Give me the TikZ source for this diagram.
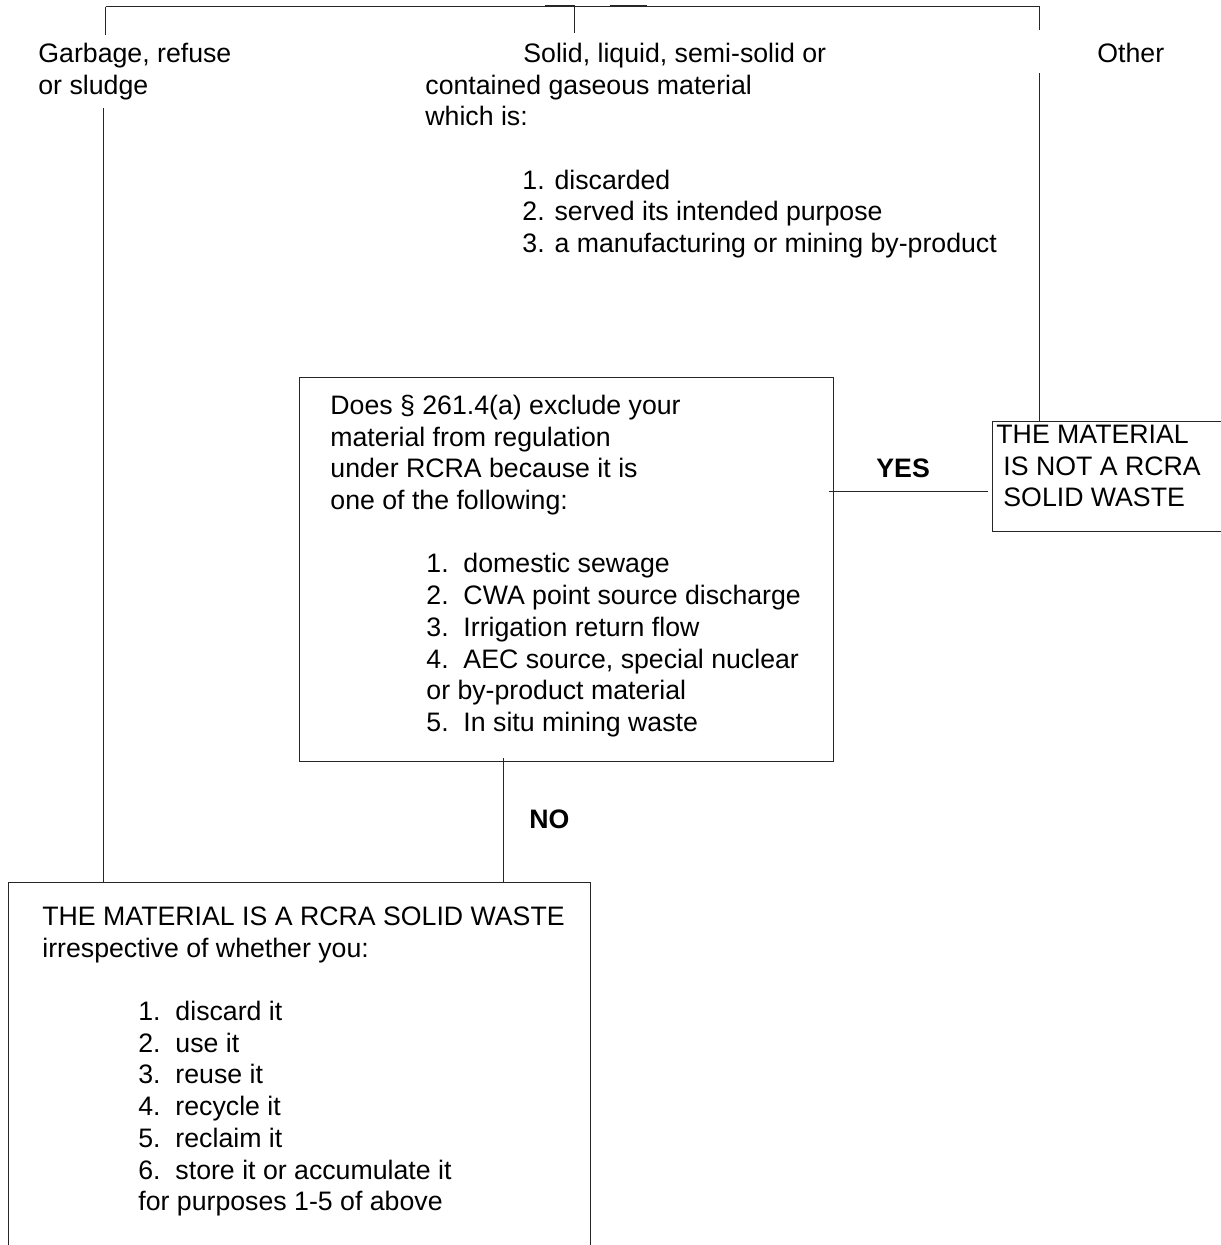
\documentclass[tikz,border=0pt]{standalone}
\usepackage{fontspec}
\setmainfont{Liberation Sans}
\usetikzlibrary{fit}

\newcommand\txtsize{\fontsize{13.35pt}{15.85pt}\selectfont}
\newcommand\topstrut{\rule{0pt}{10pt}}
\tikzset{
  box/.style={draw=black!85, line width=0.5pt, inner sep=0pt},
  link/.style={draw=black!85, line width=0.5pt},
  txt/.style={anchor=north west, inner sep=0pt, align=left, font=\txtsize},
  answer/.style={anchor=base west, inner sep=0pt, font=\txtsize\bfseries}
}

\begin{document}
\begin{tikzpicture}[x=0.5pt,y=-0.5pt]
\useasboundingbox (0,0) rectangle (1220,1245);

% corners of the boxes
\coordinate (M1) at (299,378);
\coordinate (M2) at (833,761);
\coordinate (R1) at (992,421);
\coordinate (R2) at (1224,531);
\coordinate (B1) at (8,882);
\coordinate (B2) at (590,1252);

\node[box,fit=(M1)(M2)] (mid) {};
\node[box,fit=(R1)(R2)] (notsw) {};
\node[box,fit=(B1)(B2)] (sw) {};

% texts
\node[txt] (garb) at (38,42) {\topstrut Garbage, refuse\\ or sludge};
\node[txt] (solid) at (425,42) {\topstrut\hspace*{49pt}Solid, liquid, semi-solid or\\
  contained gaseous material\\ which is:\\[15.85pt]
  \hspace*{48.5pt}1. discarded\\
  \hspace*{48.5pt}2. served its intended purpose\\
  \hspace*{48.5pt}3. a manufacturing or mining by-product};
\node[txt] (other) at (1097,42) {\topstrut Other};

\node[txt] (q) at (330,394) {\topstrut Does § 261.4(a) exclude your\\
  material from regulation\\ under RCRA because it is\\ one of the following:\\[15.85pt]
  \hspace*{48pt}1.\ \ domestic sewage\\
  \hspace*{48pt}2.\ \ CWA point source discharge\\
  \hspace*{48pt}3.\ \ Irrigation return flow\\
  \hspace*{48pt}4.\ \ AEC source, special nuclear\\
  \hspace*{48pt}or by-product material\\
  \hspace*{48pt}5.\ \ In situ mining waste};

\node[txt] (nottxt) at (996,423) {\topstrut THE MATERIAL\\
  \hspace*{3.5pt}IS NOT A RCRA\\ \hspace*{3.5pt}SOLID WASTE};

\node[txt] (swtxt) at (42,905) {\topstrut THE MATERIAL IS A RCRA SOLID WASTE\\
  irrespective of whether you:\\[15.85pt]
  \hspace*{48pt}1.\ \ discard it\\
  \hspace*{48pt}2.\ \ use it\\
  \hspace*{48pt}3.\ \ reuse it\\
  \hspace*{48pt}4.\ \ recycle it\\
  \hspace*{48pt}5.\ \ reclaim it\\
  \hspace*{48pt}6.\ \ store it or accumulate it\\
  \hspace*{48pt}for purposes 1-5 of above};

\node[answer] (yes) at (876,477) {YES};
\node[answer] (no) at (529,828) {NO};

% connectors
\coordinate (busL) at (105.7,6.7);
\coordinate (busM) at (574,6.7);
\coordinate (busR) at (1040,6.7);
\coordinate (garbT) at (105.7,35);
\coordinate (solidT) at (574,33);
\coordinate (otherT) at (1039,30);
\coordinate (garbB) at (103,108);
\coordinate (otherB) at (1039,73);
\coordinate (yesL) at (829,491);
\coordinate (noT) at (503,758);

\draw[link] (busL) -- (busR);
\draw[link] (545,5.6) -- (575,5.6) (610,5.6) -- (647,5.6);
\draw[link] (busL) -- (garbT);
\draw[link] (busM) -- (solidT);
\draw[link] (busR -| otherT) -- (otherT);
\draw[link] (garbB) -- (garbB |- sw.north);
\draw[link] (otherB) -- (otherB |- notsw.north);
\draw[link,shorten >=2pt] (yesL) -- (yesL -| notsw.west);
\draw[link] (noT) -- (noT |- sw.north);

\end{tikzpicture}
\end{document}
